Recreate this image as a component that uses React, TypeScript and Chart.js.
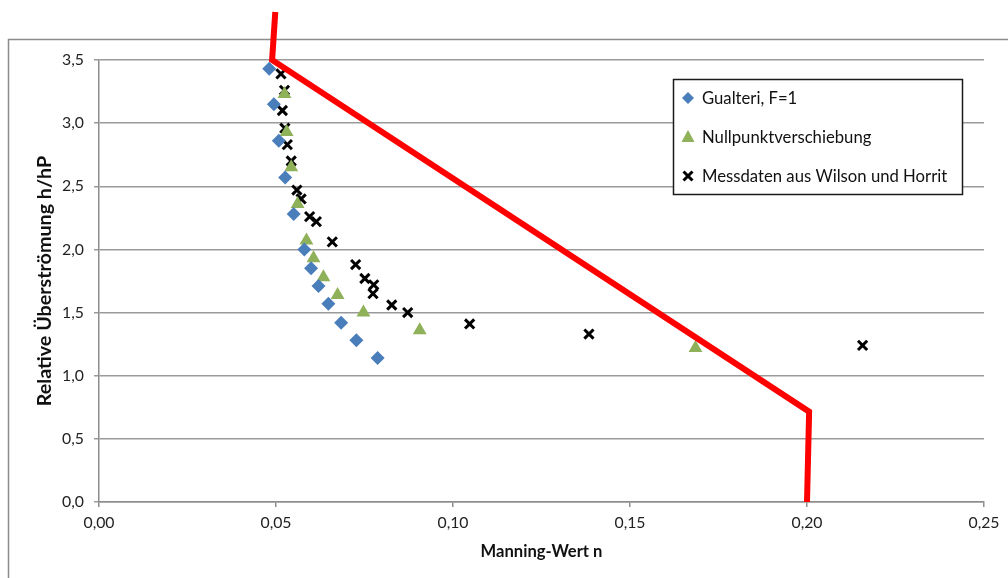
import React, { useEffect, useRef } from "react";
import { Chart, registerables } from "chart.js";

Chart.register(...registerables);

const xTicks = [0, 0.05, 0.1, 0.15, 0.2, 0.25];
const yTicks = [0, 0.5, 1, 1.5, 2, 2.5, 3, 3.5];

const gualteriN = [0.0481, 0.0494, 0.0508, 0.0526, 0.055, 0.058, 0.0599, 0.062, 0.0648, 0.0684, 0.0727, 0.0787];
const gualteriH = [3.43, 3.15, 2.86, 2.57, 2.28, 2.0, 1.85, 1.71, 1.57, 1.42, 1.28, 1.14];

const nullN = [0.0524, 0.053, 0.0543, 0.0561, 0.0586, 0.0606, 0.0634, 0.0674, 0.0747, 0.0906, 0.1685];
const nullH = [3.23, 2.93, 2.65, 2.36, 2.07, 1.93, 1.78, 1.64, 1.5, 1.36, 1.22];

const wilsonN = [0.0514, 0.0524, 0.0518, 0.0525, 0.0532, 0.0543, 0.0559, 0.0571, 0.0595, 0.0614, 0.0659, 0.0725, 0.0751, 0.0776, 0.0774, 0.0827, 0.0872, 0.1047, 0.1384, 0.2157];
const wilsonH = [3.39, 3.26, 3.1, 2.96, 2.83, 2.7, 2.47, 2.4, 2.26, 2.22, 2.06, 1.88, 1.77, 1.72, 1.65, 1.56, 1.5, 1.41, 1.33, 1.24];

const redN = [0.0498, 0.0489, 0.2006, 0.2];
const redH = [3.88, 3.5, 0.715, 0.0];

const legendLabels = ["Gualteri, F=1", "Nullpunktverschiebung", "Messdaten aus Wilson und Horrit"];
const xTitle = "Manning-Wert n";
const yTitle = "Relative Überströmung h/hP";

const BLUE = "#4A7EBB";
const GREEN = "#8FB15A";
const BLACK = "#000000";
const RED = "#FF0000";
const FAMILY = "Lato, 'Open Sans', sans-serif";

const pts = (xs: number[], ys: number[]) => xs.map((x, i) => ({ x, y: ys[i] }));

function fitSize(text: string, target: number, weight: string) {
  const c = document.createElement("canvas").getContext("2d");
  if (!c) return 14;
  c.font = `${weight} 100px ${FAMILY}`;
  const w = c.measureText(text).width;
  return Math.round(((100 * target) / w) * 10) / 10;
}

export default function App() {
  const ref = useRef<HTMLCanvasElement | null>(null);

  useEffect(() => {
    document.body.style.margin = "0";
    const canvas = ref.current;
    if (!canvas) return;

    const tickSize = Math.min(fitSize("0,00", 31, "normal"), 16);
    const xTitleSize = fitSize(xTitle, 122, "bold");
    const yTitleSize = fitSize(yTitle, 250, "bold");
    const legendSize = fitSize(legendLabels[2], 245, "normal");
    const tickFont = { family: FAMILY, size: tickSize };

    const frameAndLegend = {
      id: "frameAndLegend",
      beforeDraw(chart: any) {
        const ctx = chart.ctx;
        ctx.save();
        ctx.fillStyle = "#ffffff";
        ctx.fillRect(0, 0, chart.width, chart.height);
        ctx.strokeStyle = "#8c8c8c";
        ctx.lineWidth = 1.5;
        ctx.strokeRect(8.5, 39.5, 1100, 700);
        ctx.restore();
      },
      afterDraw(chart: any) {
        const ctx = chart.ctx;
        ctx.save();
        const bx = 673.5, by = 79.5, bw = 289, bh = 115;
        ctx.fillStyle = "#ffffff";
        ctx.fillRect(bx, by, bw, bh);
        ctx.strokeStyle = "#1a1a1a";
        ctx.lineWidth = 1.5;
        ctx.strokeRect(bx, by, bw, bh);
        const rows = [98, 137, 176];
        const mx = 688;
        ctx.fillStyle = BLUE;
        ctx.beginPath();
        ctx.moveTo(mx, rows[0] - 6);
        ctx.lineTo(mx + 6, rows[0]);
        ctx.lineTo(mx, rows[0] + 6);
        ctx.lineTo(mx - 6, rows[0]);
        ctx.closePath();
        ctx.fill();
        ctx.fillStyle = GREEN;
        ctx.beginPath();
        ctx.moveTo(mx, rows[1] - 7);
        ctx.lineTo(mx + 6.5, rows[1] + 5);
        ctx.lineTo(mx - 6.5, rows[1] + 5);
        ctx.closePath();
        ctx.fill();
        ctx.strokeStyle = BLACK;
        ctx.lineWidth = 3;
        ctx.beginPath();
        ctx.moveTo(mx - 4.5, rows[2] - 4.5);
        ctx.lineTo(mx + 4.5, rows[2] + 4.5);
        ctx.moveTo(mx + 4.5, rows[2] - 4.5);
        ctx.lineTo(mx - 4.5, rows[2] + 4.5);
        ctx.stroke();
        ctx.fillStyle = "#111111";
        ctx.font = `${legendSize}px ${FAMILY}`;
        ctx.textBaseline = "middle";
        ctx.textAlign = "left";
        legendLabels.forEach((t, i) => ctx.fillText(t, 702, rows[i] + 1));
        ctx.restore();
      },
    };

    const chart = new Chart(canvas, {
      type: "scatter",
      data: {
        datasets: [
          {
            label: "Linie",
            data: pts(redN, redH),
            showLine: true,
            borderColor: RED,
            backgroundColor: RED,
            borderWidth: 6,
            pointRadius: 0,
            borderJoinStyle: "miter",
            clip: false,
          } as any,
          {
            label: legendLabels[0],
            data: pts(gualteriN, gualteriH),
            pointStyle: "rectRot",
            pointRadius: 7,
            backgroundColor: BLUE,
            borderColor: BLUE,
            borderWidth: 0,
          },
          {
            label: legendLabels[1],
            data: pts(nullN, nullH),
            pointStyle: "triangle",
            pointRadius: 8,
            backgroundColor: GREEN,
            borderColor: GREEN,
            borderWidth: 0,
          },
          {
            label: legendLabels[2],
            data: pts(wilsonN, wilsonH),
            pointStyle: "crossRot",
            pointRadius: 6.5,
            backgroundColor: BLACK,
            borderColor: BLACK,
            borderWidth: 3,
          },
        ],
      },
      options: {
        responsive: false,
        animation: false,
        devicePixelRatio: 1,
        layout: { padding: { top: 60, right: 24, left: 0, bottom: 0 } },
        plugins: { legend: { display: false }, tooltip: { enabled: false } },
        scales: {
          x: {
            type: "linear",
            min: 0,
            max: 0.25,
            afterFit: (s: any) => {
              s.height = 76;
            },
            afterBuildTicks: (s: any) => {
              s.ticks = xTicks.map((v) => ({ value: v }));
            },
            ticks: {
              padding: 6,
              color: "#222222",
              font: tickFont,
              callback: (v: any) => Number(v).toFixed(2).replace(".", ","),
            },
            grid: {
              drawOnChartArea: false,
              drawTicks: true,
              tickLength: 5,
              color: "#8c8c8c",
              lineWidth: 1.5,
            },
            border: { color: "#8c8c8c", width: 1.5 },
            title: {
              display: true,
              text: xTitle,
              color: "#111111",
              font: { family: FAMILY, size: xTitleSize, weight: "bold", lineHeight: 1.2 },
              padding: { top: 0, bottom: 26 - (xTitleSize * 1.2) / 2 },
            },
          },
          y: {
            type: "linear",
            min: 0,
            max: 3.5,
            afterFit: (s: any) => {
              s.width = 99;
            },
            afterBuildTicks: (s: any) => {
              s.ticks = yTicks.map((v) => ({ value: v }));
            },
            ticks: {
              padding: 10,
              color: "#222222",
              font: tickFont,
              callback: (v: any) => Number(v).toFixed(1).replace(".", ","),
            },
            grid: {
              drawOnChartArea: true,
              drawTicks: true,
              tickLength: 5,
              color: "#9a9a9a",
              lineWidth: 1.5,
            },
            border: { color: "#8c8c8c", width: 1.5 },
            title: {
              display: true,
              text: yTitle,
              color: "#111111",
              font: { family: FAMILY, size: yTitleSize, weight: "bold", lineHeight: 1.2 },
              padding: { top: 45 - (yTitleSize * 1.2) / 2, bottom: 0 },
            },
          },
        },
      },
      plugins: [frameAndLegend],
    });
    return () => chart.destroy();
  }, []);

  return <canvas ref={ref} width={1008} height={578} style={{ display: "block" }} />;
}
